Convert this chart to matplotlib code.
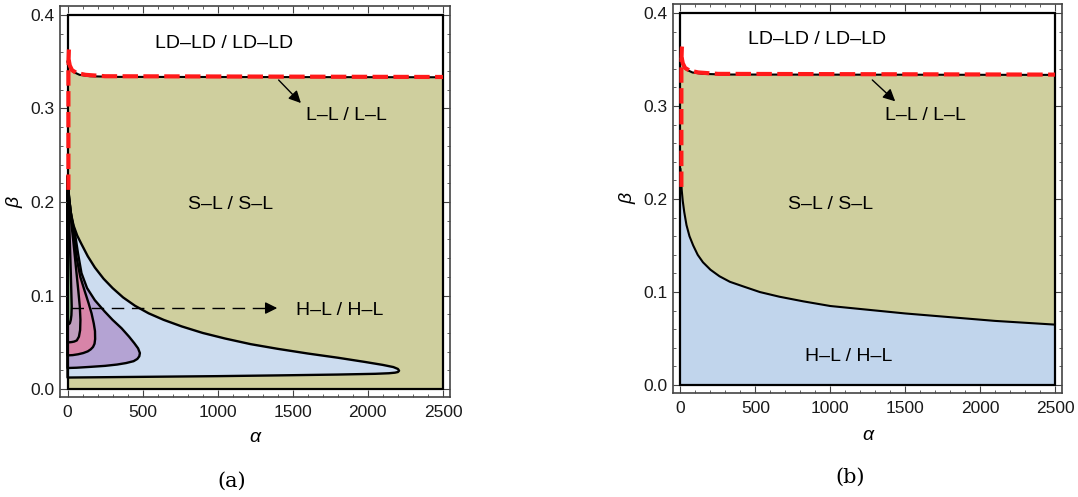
import matplotlib.pyplot as plt
from matplotlib.patches import Rectangle
from matplotlib.ticker import MultipleLocator

# ---- data ----
# top boundary (white LD-LD region above)
top_alpha = [0, 5, 10, 20, 40, 80, 150, 300, 2500]
top_beta = [0.35, 0.35, 0.347, 0.343, 0.339, 0.336, 0.3345, 0.3338, 0.3334]

# red dashed curve: horizontal branch and vertical branch
red_h_alpha = [8, 15, 30, 60, 120, 250, 2500]
red_h_beta = [0.352, 0.346, 0.341, 0.338, 0.336, 0.3345, 0.3337]
red_v_alpha = [6, 6, 6, 7, 9, 13]
red_v_beta = [0.213, 0.28, 0.34, 0.352, 0.362, 0.368]

# panel (a) nested regions: upper curve (left -> tip), lower curve (tip -> left)
blue_up_a = ([0, 8, 20, 40, 65, 93, 135, 182, 240, 300, 370, 450, 540, 640, 760, 900, 1050, 1220,
              1400, 1600, 1800, 1980, 2100, 2170, 2200, 2208],
             [0.228, 0.21, 0.19, 0.175, 0.164, 0.155, 0.142, 0.130, 0.118, 0.108, 0.098, 0.089, 0.081,
              0.074, 0.067, 0.060, 0.054, 0.048, 0.043, 0.038, 0.0335, 0.029, 0.0258, 0.0235, 0.0215, 0.0196])
blue_lo_a = ([2200, 2180, 2140, 2050, 1800, 1400, 1000, 600, 200, 0],
             [0.0182, 0.0175, 0.0169, 0.0163, 0.0155, 0.0146, 0.0138, 0.0132, 0.0126, 0.0123])
purple_up_a = ([0, 10, 25, 49, 70, 93, 130, 182, 247, 300, 360, 410, 445, 470, 482],
               [0.226, 0.205, 0.185, 0.167, 0.145, 0.124, 0.108, 0.095, 0.083, 0.074, 0.065, 0.056, 0.049, 0.0435, 0.0385])
purple_lo_a = ([478, 465, 440, 390, 330, 250, 150, 60, 0],
               [0.035, 0.0322, 0.0298, 0.0278, 0.0262, 0.0248, 0.0237, 0.0228, 0.0225])
pink_up_a = ([0, 10, 25, 42, 60, 85, 116, 140, 160, 175, 183, 184],
             [0.224, 0.205, 0.185, 0.165, 0.141, 0.12, 0.104, 0.092, 0.081, 0.07, 0.062, 0.0535])
pink_lo_a = ([180, 170, 155, 135, 105, 71, 35, 0],
             [0.0485, 0.045, 0.0425, 0.0403, 0.0385, 0.0372, 0.0363, 0.036])
mauve_up_a = ([0, 10, 25, 38, 50, 60, 72, 82, 86, 84, 76, 62],
              [0.222, 0.2, 0.178, 0.159, 0.14, 0.124, 0.105, 0.088, 0.074, 0.063, 0.056, 0.052])
mauve_lo_a = ([45, 30, 14, 0],
              [0.0508, 0.0503, 0.050, 0.050])
green_up_a = ([0, 8, 13, 18, 22, 26, 28, 26, 22, 16],
              [0.22, 0.195, 0.17, 0.145, 0.124, 0.1, 0.088, 0.079, 0.074, 0.0705])
green_lo_a = ([12, 6, 0],
              [0.0698, 0.0693, 0.069])

# panel (b) boundary between S-L and H-L
curve_b_alpha = [0, 3, 8, 15, 25, 40, 60, 85, 115, 150, 200, 260, 330, 420, 530, 660, 820,
                 1000, 1250, 1500, 1800, 2100, 2500]
curve_b_beta = [0.232, 0.224, 0.21, 0.198, 0.186, 0.172, 0.160, 0.150, 0.140, 0.132, 0.124, 0.117,
                0.111, 0.106, 0.100, 0.095, 0.090, 0.085, 0.081, 0.077, 0.073, 0.069, 0.065]

OLIVE = '#cfcf9e'
BLUE_A = '#ccdcef'
BLUE_B = '#c1d5ec'
PURPLE = '#b4a3d3'
PINK = '#d884a8'
MAUVE = '#bf9dbd'
GREEN = '#8fba8e'

SANS = 'Liberation Sans'
FRAME = '#444444'

fig = plt.figure(figsize=(10.78, 4.97), dpi=100)
ax_a = fig.add_axes([60 / 1078, 100 / 497, 390 / 1078, 391 / 497])
ax_b = fig.add_axes([673 / 1078, 104 / 497, 389 / 1078, 389 / 497])


def region(ax, up, lo, color):
    xs = list(up[0]) + list(lo[0])
    ys = list(up[1]) + list(lo[1])
    ax.fill(xs, ys, facecolor=color, edgecolor='black', lw=1.7, joinstyle='round')


def base(ax):
    ax.fill_between(top_alpha, 0, top_beta, color=OLIVE, lw=0)
    ax.plot(top_alpha, top_beta, color='black', lw=1.5)


def finish(ax):
    ax.add_patch(Rectangle((0, 0), 2500, 0.4, fill=False, ec='black', lw=1.6, zorder=5))
    ax.plot(red_h_alpha, red_h_beta, color='#ff1a1a', lw=3, dashes=(3.7, 1.3), zorder=6)
    ax.plot(red_v_alpha, red_v_beta, color='#ff1a1a', lw=3, dashes=(3.7, 1.3), zorder=6)
    ax.set_xlim(-50, 2547)
    ax.set_ylim(-0.0085, 0.4096)
    ax.xaxis.set_major_locator(MultipleLocator(500))
    ax.xaxis.set_minor_locator(MultipleLocator(100))
    ax.yaxis.set_major_locator(MultipleLocator(0.1))
    ax.yaxis.set_minor_locator(MultipleLocator(0.02))
    ax.yaxis.set_major_formatter(plt.FuncFormatter(lambda v, p: f"{v:.1f}"))
    ax.tick_params(which='both', direction='in', top=True, right=True, color=FRAME,
                   labelsize=12.5, labelcolor='#1a1a1a')
    ax.tick_params(which='major', length=5, width=0.8)
    ax.tick_params(which='minor', length=2.5, width=0.6)
    ax.tick_params(axis='x', pad=6)
    ax.tick_params(axis='y', pad=4)
    for lab in ax.get_xticklabels() + ax.get_yticklabels():
        lab.set_family(SANS)
    for s in ax.spines.values():
        s.set_color(FRAME)
        s.set_linewidth(1.2)


# ---- panel (a) ----
base(ax_a)
region(ax_a, blue_up_a, blue_lo_a, BLUE_A)
region(ax_a, purple_up_a, purple_lo_a, PURPLE)
region(ax_a, pink_up_a, pink_lo_a, PINK)
region(ax_a, mauve_up_a, mauve_lo_a, MAUVE)
region(ax_a, green_up_a, green_lo_a, GREEN)
ax_a.plot([25, 1330], [0.0866, 0.0866], color='black', lw=1, dashes=(9, 5.5))
ax_a.annotate('', xy=(1415, 0.0866), xytext=(1300, 0.0866),
              arrowprops=dict(arrowstyle='-|>', color='black', lw=1, mutation_scale=18))
ax_a.annotate('', xy=(1567, 0.3037), xytext=(1393, 0.3326),
              arrowprops=dict(arrowstyle='-|>', color='black', lw=1, mutation_scale=18))
ax_a.text(1040, 0.37, 'LD–LD / LD–LD', ha='center', va='center', fontsize=14, family=SANS)
ax_a.text(1860, 0.292, 'L–L / L–L', ha='center', va='center', fontsize=14, family=SANS)
ax_a.text(1087, 0.197, 'S–L / S–L', ha='center', va='center', fontsize=14, family=SANS)
ax_a.text(1813, 0.084, 'H–L / H–L', ha='center', va='center', fontsize=14, family=SANS)
finish(ax_a)

# ---- panel (b) ----
base(ax_b)
ax_b.fill_between(curve_b_alpha, 0, curve_b_beta, color=BLUE_B, lw=0)
ax_b.plot(curve_b_alpha, curve_b_beta, color='black', lw=1.5)
ax_b.annotate('', xy=(1447, 0.303), xytext=(1267, 0.330),
              arrowprops=dict(arrowstyle='-|>', color='black', lw=1, mutation_scale=18))
ax_b.text(913, 0.371, 'LD–LD / LD–LD', ha='center', va='center', fontsize=14, family=SANS)
ax_b.text(1633, 0.29, 'L–L / L–L', ha='center', va='center', fontsize=14, family=SANS)
ax_b.text(1000, 0.194, 'S–L / S–L', ha='center', va='center', fontsize=14, family=SANS)
ax_b.text(1120, 0.031, 'H–L / H–L', ha='center', va='center', fontsize=14, family=SANS)
finish(ax_b)

# axis labels and panel captions
fig.text(255 / 1078, 1 - 437 / 497, 'α', ha='center', va='center', fontsize=14, style='italic', family=SANS)
fig.text(15 / 1078, 1 - 202 / 497, 'β', ha='center', va='center', fontsize=14, style='italic', family=SANS, rotation=90)
fig.text(868 / 1078, 1 - 435 / 497, 'α', ha='center', va='center', fontsize=14, style='italic', family=SANS)
fig.text(628 / 1078, 1 - 198 / 497, 'β', ha='center', va='center', fontsize=14, style='italic', family=SANS, rotation=90)
fig.text(232 / 1078, 1 - 481 / 497, '(a)', ha='center', va='center', fontsize=15, family='DejaVu Serif')
fig.text(850 / 1078, 1 - 477 / 497, '(b)', ha='center', va='center', fontsize=15, family='DejaVu Serif')

fig.savefig('out.png', dpi=100)
